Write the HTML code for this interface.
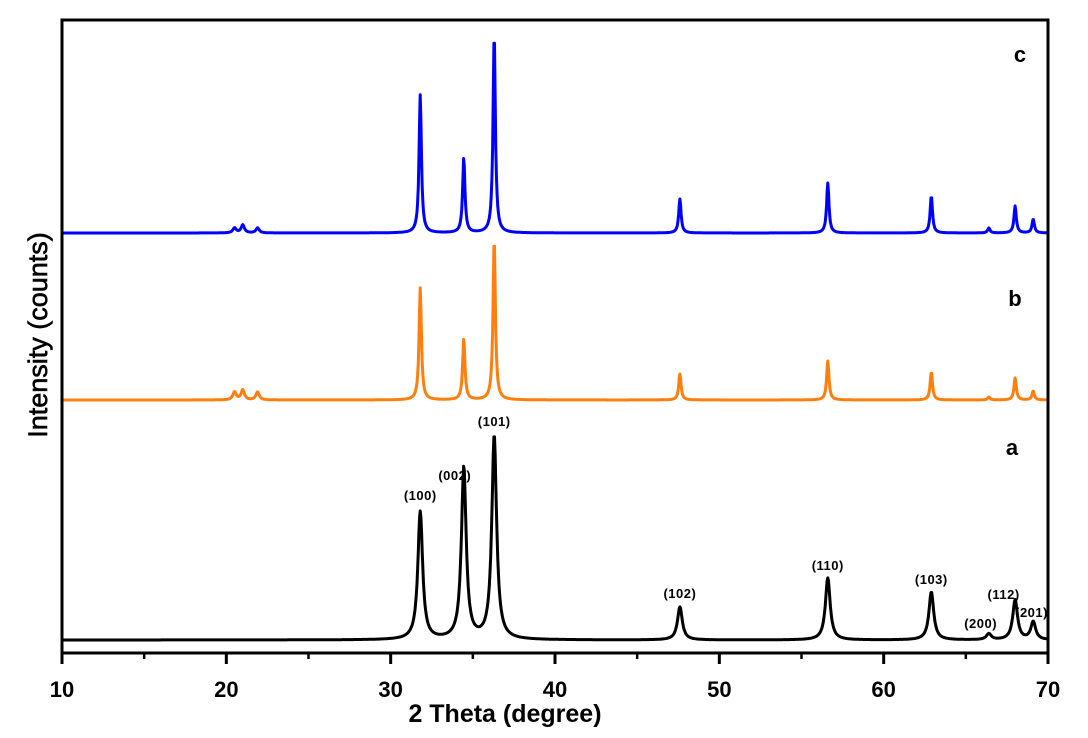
<!DOCTYPE html>
<html><head><meta charset="utf-8"><style>
body{margin:0;background:#fff;width:1088px;height:738px;overflow:hidden}
svg{display:block;font-family:"Liberation Sans",Arial,sans-serif}
</style></head><body>
<svg id="chart" width="1088" height="738" viewBox="0 0 1088 738"></svg>
<script>
const xTicks=[10,20,30,40,50,60,70];
const xMinor=[15,25,35,45,55,65];
const peakPos=[31.8,34.45,36.3,47.6,56.6,62.9,66.4,68.0,69.1];
const seriesA=[128,172,204,33,62,48,6,40,18];
const seriesB=[112,61,162,26,39,28,3,22,9];
const seriesC=[138,75,200,34,50,37,5,27,14];
const bumpPos=[20.5,21.0,21.9];
const bumpA=[0,0,0];
const bumpB=[8,10,8];
const bumpC=[5,8,5];
const offsets=[13,253,420];
const widths=[0.35,0.17,0.17];
const colors=["#000000","#ff7f0e","#0000ff"];
const labels=["a","b","c"];
const hkl=["(100)","(002)","(101)","(102)","(110)","(103)","(200)","(112)","(201)"];
const hklPos=[[31.8,500],[33.9,480],[36.3,426],[47.6,598],[56.6,570],[62.9,584],[65.9,628],[67.3,599],[69.0,617]];
const NS="http://www.w3.org/2000/svg";
const svg=document.getElementById('chart');
const L=62,R=1048,T=20,B=653;
const xs=v=>L+(v-10)/60*(R-L);
const ys=v=>B-v;
function mk(t,a){const e=document.createElementNS(NS,t);for(const k in a)e.setAttribute(k,a[k]);svg.appendChild(e);return e;}
const series=[seriesA,seriesB,seriesC];const bumps=[bumpA,bumpB,bumpC];
series.forEach((s,i)=>{
  let d="";
  for(let x=10;x<=70.001;x+=0.04){
    let y=offsets[i];
    const w=widths[i]/2;
    peakPos.forEach((p,j)=>{y+=s[j]*w*w/((x-p)*(x-p)+w*w);});
    bumpPos.forEach((p,j)=>{const bw=0.12;y+=bumps[i][j]*bw*bw/((x-p)*(x-p)+bw*bw);});
    d+=(d?"L":"M")+xs(x).toFixed(1)+","+ys(y).toFixed(1);
  }
  const p=mk('path',{d:d,fill:'none',stroke:colors[i],'stroke-width':3,'stroke-linejoin':'round'});
  
  
  const lx=[1012,1015,1020][i],ly=[455,306,62][i];
  const t=mk('text',{x:lx,y:ly,'font-size':22,'font-weight':'bold','text-anchor':'middle'});
  t.textContent=labels[i];
  
  
});
hkl.forEach((h,i)=>{
  const t=mk('text',{x:xs(hklPos[i][0]),y:hklPos[i][1],'font-size':13,'font-weight':'bold','text-anchor':'middle','letter-spacing':0.5});
  t.textContent=h;
  
  
});
const f=mk('path',{d:`M${L},${B}V${T}H${R}V${B}Z`,fill:'none',stroke:'#000','stroke-width':3});


xTicks.forEach(v=>{
  const l=mk('line',{x1:xs(v),x2:xs(v),y1:B,y2:B+11,stroke:'#000','stroke-width':3});
  
  
  const t=mk('text',{x:xs(v),y:697,'font-size':22,'font-weight':'bold','text-anchor':'middle'});
  t.textContent=v;
  
  
});
xMinor.forEach(v=>{
  const l=mk('line',{x1:xs(v),x2:xs(v),y1:B,y2:B+6,stroke:'#000','stroke-width':2.5});
  
  
});
const xt=mk('text',{x:505,y:722,'font-size':25,'font-weight':'bold','text-anchor':'middle'});
xt.textContent="2 Theta (degree)";


const yt=mk('text',{x:0,y:0,'font-size':27,'text-anchor':'middle',transform:'translate(47,335) rotate(-90)','stroke':'#000','stroke-width':0.6});
yt.textContent="Intensity (counts)";


</script>
</body></html>
